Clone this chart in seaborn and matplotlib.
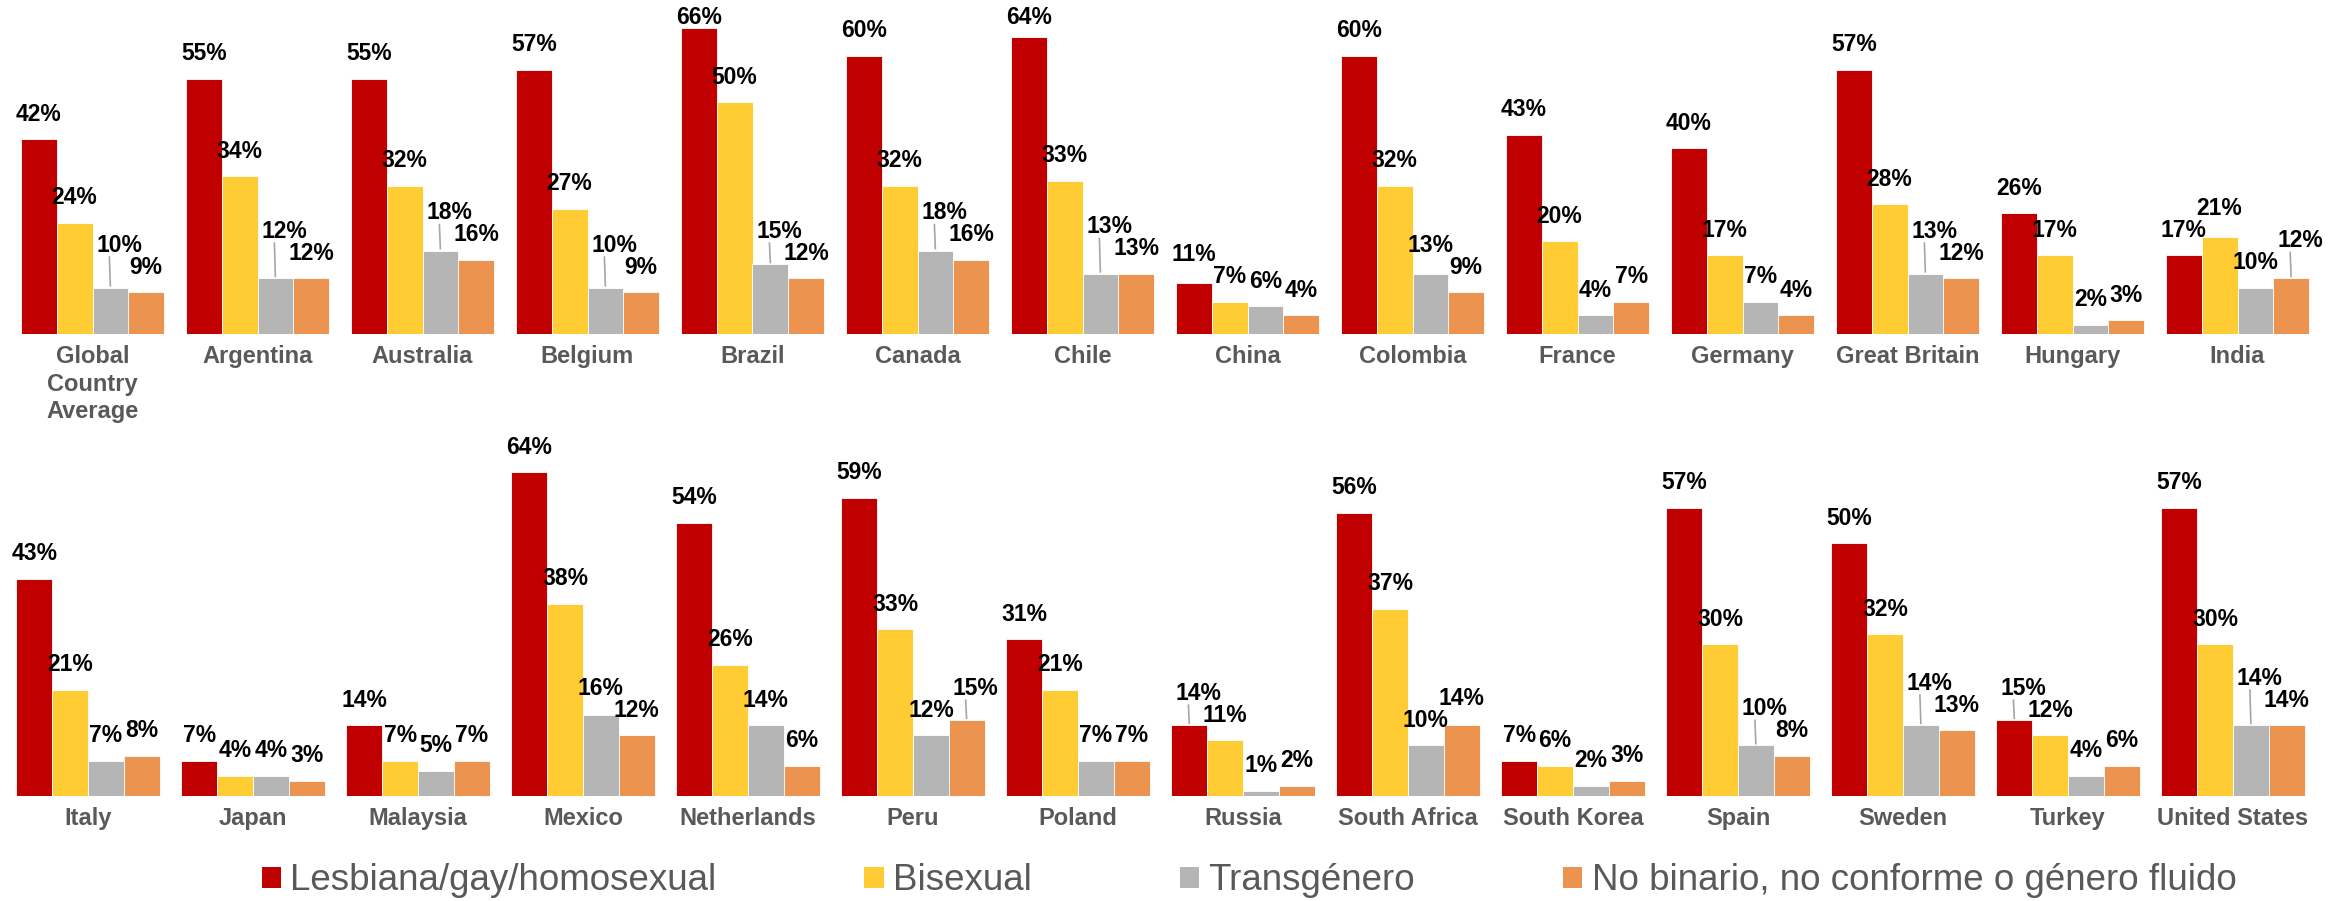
import matplotlib
matplotlib.use("Agg")
import matplotlib.pyplot as plt
import pandas as pd
import seaborn as sns
from matplotlib.patches import Patch

# ---- data ----
series = ["Lesbiana/gay/homosexual", "Bisexual", "Transgénero",
          "No binario, no conforme o género fluido"]
colors = ["#C00000", "#FFCC33", "#B5B5B5", "#EC9350"]

countries_top = ["Global\nCountry\nAverage", "Argentina", "Australia", "Belgium",
                 "Brazil", "Canada", "Chile", "China", "Colombia", "France",
                 "Germany", "Great Britain", "Hungary", "India"]
lgb_top = [42, 55, 55, 57, 66, 60, 64, 11, 60, 43, 40, 57, 26, 17]
bi_top = [24, 34, 32, 27, 50, 32, 33, 7, 32, 20, 17, 28, 17, 21]
trans_top = [10, 12, 18, 10, 15, 18, 13, 6, 13, 4, 7, 13, 2, 10]
nb_top = [9, 12, 16, 9, 12, 16, 13, 4, 9, 7, 4, 12, 3, 12]

countries_bottom = ["Italy", "Japan", "Malaysia", "Mexico", "Netherlands", "Peru",
                    "Poland", "Russia", "South Africa", "South Korea", "Spain",
                    "Sweden", "Turkey", "United States"]
lgb_bottom = [43, 7, 14, 64, 54, 59, 31, 14, 56, 7, 57, 50, 15, 57]
bi_bottom = [21, 4, 7, 38, 26, 33, 21, 11, 37, 6, 30, 32, 12, 30]
trans_bottom = [7, 4, 5, 16, 14, 12, 7, 1, 10, 2, 10, 14, 4, 14]
nb_bottom = [8, 3, 7, 12, 6, 15, 7, 2, 14, 3, 8, 13, 6, 14]

sns.set_style("white")
plt.rcParams["font.family"] = ["Liberation Sans", "DejaVu Sans"]

W, H, DPI = 2341, 901, 100
fig = plt.figure(figsize=(W / DPI, H / DPI), dpi=DPI)

GROUP_WIDTH = 0.867
TEXT_GREY = "#595959"
LEADER = "#A6A6A6"


def long_frame(countries, cols):
    rows = []
    for c_i, c in enumerate(countries):
        for s_i, s in enumerate(series):
            rows.append({"country": c, "series": s, "pct": cols[s_i][c_i]})
    return pd.DataFrame(rows)


def label_width_px(txt):
    return 46 if len(txt) >= 3 else 33


def draw_row(ax, countries, cols, ymax, top_limit_px=None):
    df = long_frame(countries, cols)
    sns.barplot(data=df, x="country", y="pct", hue="series", order=countries,
                hue_order=series, palette=colors, saturation=1,
                width=GROUP_WIDTH, errorbar=None, legend=False,
                edgecolor="white", linewidth=0.6, ax=ax)
    n = len(countries)
    ax.set_xlim(-0.5, n - 0.5)
    ax.set_ylim(0, ymax)
    for sp in ax.spines.values():
        sp.set_visible(False)
    ax.set_yticks([])
    ax.set_xlabel("")
    ax.set_ylabel("")
    ax.tick_params(axis="x", length=0, pad=8, labelsize=17, labelcolor=TEXT_GREY)
    for t in ax.get_xticklabels():
        t.set_fontweight("bold")
        t.set_linespacing(1.26)

    # pixel scale of the axes
    bbox = ax.get_position()
    ax_h_px = bbox.height * H
    ax_w_px = bbox.width * W
    ppu_y = ax_h_px / ymax
    ppu_x = ax_w_px / n

    bars = sorted([p for p in ax.patches if p.get_width() > 0],
                  key=lambda p: p.get_x() + p.get_width() / 2)
    bar_pitch_px = GROUP_WIDTH / len(series) * ppu_x

    offset_px = 25.0
    step_px = 22.0
    for c_i in range(n):
        vals = [cols[s][c_i] for s in range(len(series))]
        texts = [f"{v}%" for v in vals]
        group = bars[c_i * len(series):(c_i + 1) * len(series)]
        default = [v * ppu_y + offset_px for v in vals]
        ypos = list(default)
        for _ in range(4):
            for j in range(len(series) - 1):
                ov_x = (label_width_px(texts[j]) + label_width_px(texts[j + 1])) / 2 > bar_pitch_px + 2
                if ov_x and abs(ypos[j] - ypos[j + 1]) < step_px:
                    if vals[j] >= vals[j + 1]:
                        ypos[j] = ypos[j + 1] + step_px
                    else:
                        ypos[j + 1] = ypos[j] + step_px
        for j, p in enumerate(group):
            cx = p.get_x() + p.get_width() / 2
            y = ypos[j]
            if top_limit_px is not None:
                y = min(y, top_limit_px)
            raised = y - default[j] > 6
            dx_px = 9 if raised else 0
            lx = cx + dx_px / ppu_x
            ax.text(lx, y / ppu_y, texts[j], ha="center", va="center",
                    fontsize=16.5, fontweight="bold", color="black",
                    clip_on=False, zorder=5)
            if raised:
                ax.plot([cx, lx - 10 / ppu_x], [vals[j] + 1 / ppu_y, (y - 11) / ppu_y],
                        color=LEADER, lw=1.2, clip_on=False, zorder=4,
                        solid_capstyle="butt")


top_ax = fig.add_axes([10 / W, (H - 334) / H, 2310 / W, 334 / H])
bot_ax = fig.add_axes([5.5 / W, (H - 796) / H, 2310 / W, 356 / H])

draw_row(top_ax, countries_top, [lgb_top, bi_top, trans_top, nb_top], 72.0,
         top_limit_px=334 - 18)
draw_row(bot_ax, countries_bottom, [lgb_bottom, bi_bottom, trans_bottom, nb_bottom], 70.4)

# ---- legend ----
handles = [Patch(facecolor=c, edgecolor="none", label=s) for s, c in zip(series, colors)]
fig.legend(handles=handles, loc="center", bbox_to_anchor=(1249 / W, (H - 881) / H),
           ncol=4, frameon=False, fontsize=26.5, labelcolor=TEXT_GREY,
           handlelength=0.52, handleheight=0.52, handletextpad=0.25,
           columnspacing=4.03, borderpad=0, borderaxespad=0)

fig.savefig("out.png", dpi=DPI)
